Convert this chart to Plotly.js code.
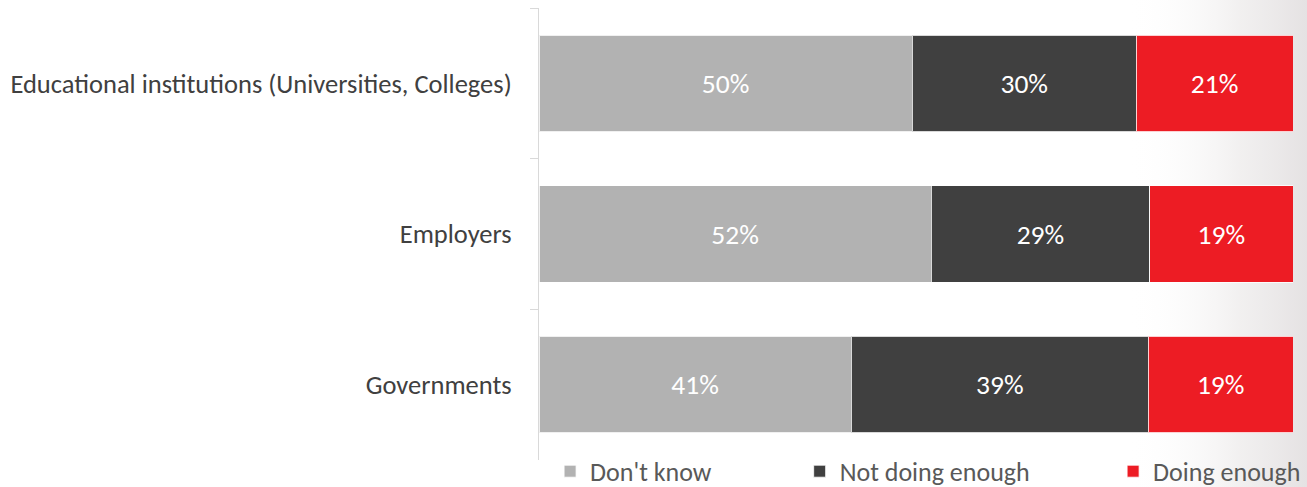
<!DOCTYPE html>
<html>
<head>
<meta charset="utf-8">
<script src="https://cdn.plot.ly/plotly-3.0.1.min.js"></script>
<style>html,body{margin:0;padding:0;background:#fff;}#chart{width:1307px;height:487px;}</style>
</head>
<body>
<div id="chart"></div>
<script>
const categories = ["Educational institutions (Universities, Colleges)", "Employers", "Governments"];
const seriesNames = ["Don't know", "Not doing enough", "Doing enough"];
const dontKnow = [50, 52, 41];
const notDoingEnough = [30, 29, 39];
const doingEnough = [21, 19, 19];
const seriesColors = ["#B2B2B2", "#404040", "#ED1C24"];

const FONT = "Carlito, 'Open Sans', sans-serif";
const seriesValues = [dontKnow, notDoingEnough, doingEnough];
const legendIds = ["legend", "legend2", "legend3"];

const traces = seriesValues.map((vals, i) => ({
  type: "bar",
  orientation: "h",
  name: seriesNames[i],
  y: categories,
  x: vals,
  text: vals.map(v => v + "%"),
  texttemplate: "%{text}",
  textposition: "inside",
  insidetextanchor: "middle",
  constraintext: "none",
  textfont: {family: FONT, size: 27.5, color: "#ffffff"},
  marker: {color: seriesColors[i], line: {color: "rgba(255,255,255,0.8)", width: 1}},
  legend: legendIds[i],
  hoverinfo: "skip"
}));

const gradSvg = "<svg xmlns='http://www.w3.org/2000/svg' width='200' height='487'><defs>" +
  "<linearGradient id='g' x1='0' y1='0' x2='1' y2='0'><stop offset='0' stop-color='#ffffff' stop-opacity='0'/>" +
  "<stop offset='0.6' stop-color='#eeecec' stop-opacity='0.8'/><stop offset='1' stop-color='#e3e0e1' stop-opacity='1'/></linearGradient></defs>" +
  "<rect width='200' height='487' fill='url(#g)'/></svg>";

const legendBase = {
  orientation: "h",
  yanchor: "middle",
  xanchor: "left",
  y: -0.025,
  bgcolor: "rgba(0,0,0,0)",
  font: {family: FONT, size: 26, color: "#595959"},
  itemwidth: 30,
  tracegroupgap: 0
};

const layout = {
  width: 1307,
  height: 487,
  margin: {l: 539, r: 14, t: 8, b: 27, autoexpand: false},
  paper_bgcolor: "#ffffff",
  plot_bgcolor: "rgba(0,0,0,0)",
  barmode: "stack",
  barnorm: "percent",
  bargap: 0.36,
  showlegend: true,
  font: {family: FONT, color: "#404040"},
  xaxis: {visible: false, range: [0, 100], fixedrange: true},
  yaxis: {
    autorange: "reversed",
    showline: true,
    linecolor: "#d9d9d9",
    linewidth: 1,
    ticks: "outside",
    tickson: "boundaries",
    ticklen: 8,
    tickcolor: "#d9d9d9",
    ticklabelstandoff: 21,
    tickfont: {family: FONT, size: 26.5, color: "#404040"},
    showgrid: false,
    zeroline: false
  },
  legend: Object.assign({}, legendBase, {x: 0.0147}),
  legend2: Object.assign({}, legendBase, {x: 0.3457}),
  legend3: Object.assign({}, legendBase, {x: 0.7614}),
  images: [{
    source: "data:image/svg+xml;utf8," + encodeURIComponent(gradSvg),
    xref: "paper", yref: "paper",
    x: 0.78, y: 1.02, sizex: 0.25, sizey: 1.08,
    xanchor: "left", yanchor: "top",
    sizing: "stretch", layer: "below"
  }]
};

Plotly.newPlot("chart", traces, layout, {displayModeBar: false, staticPlot: true});
</script>
</body>
</html>
